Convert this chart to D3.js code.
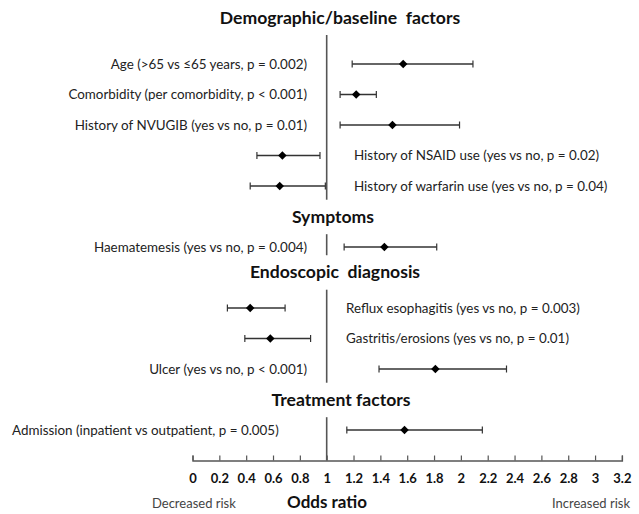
<!DOCTYPE html>
<html>
<head>
<meta charset="utf-8">
<script src="https://cdn.jsdelivr.net/npm/d3@7"></script>
<style>
  html, body { margin: 0; padding: 0; background: #fff; }
  svg { display: block; }
</style>
</head>
<body>
<div id="chart"></div>
<script>
// ---------- data ----------
const factors = [
  "Age (>65 vs \u226465 years, p = 0.002)",
  "Comorbidity (per comorbidity, p < 0.001)",
  "History of NVUGIB (yes vs no, p = 0.01)",
  "History of NSAID use (yes vs no, p = 0.02)",
  "History of warfarin use (yes vs no, p = 0.04)",
  "Haematemesis (yes vs no, p = 0.004)",
  "Reflux esophagitis (yes vs no, p = 0.003)",
  "Gastritis/erosions (yes vs no, p = 0.01)",
  "Ulcer (yes vs no, p < 0.001)",
  "Admission (inpatient vs outpatient, p = 0.005)"
];
// row slot of each factor (category order, titles interleaved)
const factorSlots = [1, 2, 3, 4, 5, 7, 9, 10, 11, 13];
const labelSide   = ["left", "left", "left", "right", "right", "left", "right", "right", "left", "far-left"];
const oddsRatio   = [1.57, 1.22, 1.49, 0.67, 0.65, 1.43, 0.43, 0.58, 1.81, 1.58];
const ciLow       = [1.19, 1.10, 1.10, 0.48, 0.43, 1.13, 0.26, 0.39, 1.39, 1.15];
const ciHigh      = [2.09, 1.37, 1.99, 0.95, 0.99, 1.82, 0.69, 0.88, 2.34, 2.16];

const sections     = ["Demographic/baseline  factors", "Symptoms", "Endoscopic  diagnosis", "Treatment factors"];
const sectionSlots = [-0.5, 6, 7.82, 12];

const tickValues = [0, 0.2, 0.4, 0.6, 0.8, 1, 1.2, 1.4, 1.6, 1.8, 2, 2.2, 2.4, 2.6, 2.8, 3, 3.2];
const tickLabels = ["0", "0.2", "0.4", "0.6", "0.8", "1", "1.2", "1.4", "1.6", "1.8", "2", "2.2", "2.4", "2.6", "2.8", "3", "3.2"];
const axisTitle = "Odds ratio";
const leftNote = "Decreased risk";
const rightNote = "Increased risk";

// ---------- layout ----------
const W = 639, H = 514;
const FONT = "Lato, 'Open Sans', sans-serif";
const svg = d3.select("#chart").append("svg").attr("width", W).attr("height", H);

const x = d3.scaleLinear().domain([0, 3.2]).range([192.5, 621.9]);
const y = d3.scaleLinear().domain([0, 14]).range([33.5, 460.5]);
const axisSlot = 14;

// reference line at OR = 1, broken around section titles
const gaps = sectionSlots.slice(1).map(s => [s - 0.55, s + 0.58]);
let segs = [];
let start = 0.05;
gaps.forEach(g => { segs.push([start, g[0]]); start = g[1]; });
segs.push([start, axisSlot]);
svg.append("g").selectAll("line").data(segs).join("line")
  .attr("x1", x(1)).attr("x2", x(1))
  .attr("y1", d => y(d[0])).attr("y2", d => y(d[1]))
  .attr("stroke", "#555").attr("stroke-width", 1.6);

// section titles
svg.append("g").selectAll("text").data(sections).join("text")
  .attr("x", (d, i) => [340, 333, 335, 341][i])
  .attr("y", (d, i) => y(sectionSlots[i]))
  .attr("dy", "0.35em")
  .attr("text-anchor", "middle")
  .attr("font-family", FONT).attr("font-weight", "bold").attr("font-size", 17.6)
  .attr("fill", "#111")
  .style("white-space", "pre")
  .text(d => d);

// rows
const rows = factors.map((f, i) => ({ f, slot: factorSlots[i], side: labelSide[i], or: oddsRatio[i], lo: ciLow[i], hi: ciHigh[i] }));
const g = svg.append("g");
const rg = g.selectAll("g.row").data(rows).join("g").attr("class", "row")
  .attr("transform", d => `translate(0,${y(d.slot)})`);

rg.append("line")
  .attr("x1", d => x(d.lo)).attr("x2", d => x(d.hi))
  .attr("stroke", "#333").attr("stroke-width", 1.3);
rg.append("line")
  .attr("x1", d => x(d.lo)).attr("x2", d => x(d.lo)).attr("y1", -3.5).attr("y2", 3.5)
  .attr("stroke", "#333").attr("stroke-width", 1.2);
rg.append("line")
  .attr("x1", d => x(d.hi)).attr("x2", d => x(d.hi)).attr("y1", -3.5).attr("y2", 3.5)
  .attr("stroke", "#333").attr("stroke-width", 1.2);
rg.append("path")
  .attr("d", d3.symbol(d3.symbolDiamond2, 46)())
  .attr("transform", d => `translate(${x(d.or)},0)`)
  .attr("fill", "#000");

rg.append("text")
  .attr("x", d => d.side === "left" ? 307 : d.side === "far-left" ? 12 : (d.slot < 6 ? 354 : 346))
  .attr("text-anchor", d => d.side === "left" ? "end" : "start")
  .attr("dy", "0.35em")
  .attr("font-family", FONT).attr("font-size", 13.4)
  .attr("fill", "#222")
  .style("white-space", "pre")
  .text(d => d.f);

// x axis
const axis = d3.axisBottom(x)
  .tickValues(tickValues)
  .tickFormat((d, i) => tickLabels[i])
  .tickSizeInner(-5).tickSizeOuter(-5)
  .tickPadding(13);
const ax = svg.append("g").attr("transform", `translate(0,${y(axisSlot)})`).call(axis);
ax.select(".domain").attr("stroke", "#555").attr("stroke-width", 1.4);
ax.selectAll(".tick line").attr("stroke", "#555").attr("stroke-width", 1.2);
ax.selectAll(".tick text")
  .attr("font-family", FONT).attr("font-weight", "bold").attr("font-size", 13)
  .attr("fill", "#111");

svg.append("text")
  .attr("x", 327).attr("y", 502).attr("dy", "0.35em")
  .attr("text-anchor", "middle")
  .attr("font-family", FONT).attr("font-weight", "bold").attr("font-size", 17)
  .attr("fill", "#111")
  .text(axisTitle);
svg.append("text")
  .attr("x", 152).attr("y", 503).attr("dy", "0.35em")
  .attr("font-family", FONT).attr("font-size", 13).attr("fill", "#444")
  .text(leftNote);
svg.append("text")
  .attr("x", 630).attr("y", 503).attr("dy", "0.35em")
  .attr("text-anchor", "end")
  .attr("font-family", FONT).attr("font-size", 13).attr("fill", "#444")
  .text(rightNote);
</script>
</body>
</html>
